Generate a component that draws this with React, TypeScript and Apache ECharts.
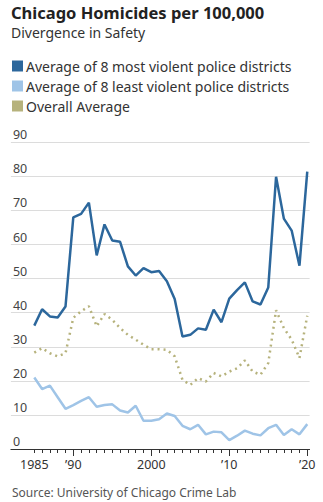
import React, { useEffect, useRef } from "react";
import * as echarts from "echarts";

const years: number[] = [];
for (let y = 1985; y <= 2020; y++) years.push(y);

const mostViolent = [
  36.2, 41.0, 38.9, 38.6, 41.8, 68.0, 69.0, 72.3, 56.8, 65.9, 61.2, 60.8,
  53.6, 50.9, 53.1, 51.9, 52.2, 49.2, 44.0, 33.0, 33.5, 35.4, 35.0, 40.9,
  37.2, 44.1, 46.6, 48.9, 43.3, 42.4, 47.4, 79.9, 67.6, 64.1, 53.8, 81.4,
];
const leastViolent = [
  21.0, 17.6, 18.6, 15.2, 11.8, 12.9, 14.1, 15.2, 12.4, 12.9, 13.1, 11.3,
  10.7, 12.7, 8.3, 8.3, 8.7, 10.4, 9.7, 6.8, 5.8, 7.1, 4.3, 5.1,
  4.9, 2.6, 3.9, 5.4, 4.5, 4.0, 6.1, 7.1, 4.1, 5.8, 4.3, 7.3,
];
const overall = [
  28.3, 29.6, 28.1, 27.2, 28.1, 38.5, 40.4, 41.9, 36.0, 39.6, 37.9, 35.5,
  33.5, 32.1, 30.6, 29.3, 29.3, 29.1, 27.2, 20.3, 18.8, 20.8, 19.8, 22.3,
  21.3, 22.7, 23.7, 26.0, 22.7, 21.8, 25.2, 40.7, 35.5, 32.1, 26.7, 39.1,
];
const xLabelYears = [1985, 1990, 2000, 2010, 2020];
const majorTickYears = [1990, 2000, 2010, 2020];
const seriesNames = [
  "Average of 8 most violent police districts",
  "Average of 8 least violent police districts",
  "Overall Average",
];

const FONT = "Noto Sans";
const DARK = "#2c679c";
const LIGHT = "#9fc4e7";
const OLIVE = "#b6b27c";

function fmtYear(v: number) {
  if (v === 1985 || v === 2000) return String(v);
  return "\u2019" + String(v).slice(2);
}

export default function App() {
  const ref = useRef<HTMLDivElement>(null);
  useEffect(() => {
    if (!ref.current) return;
    const chart = echarts.init(ref.current, null, { renderer: "svg" });
    const pair = (arr: number[]) => years.map((y, i) => [y, arr[i]]);
    chart.setOption({
      animation: false,
      backgroundColor: "#fff",
      textStyle: { fontFamily: FONT },
      title: {
        text: "Chicago Homicides per 100,000",
        subtext: "Divergence in Safety",
        left: 11,
        top: 0,
        padding: [2, 0, 0, 0],
        itemGap: 1,
        textStyle: { fontFamily: FONT, fontSize: 16.5, fontWeight: "bold", color: "#222", lineHeight: 21 },
        subtextStyle: { fontFamily: FONT, fontSize: 14, color: "#333", lineHeight: 17 },
      },
      legend: {
        orient: "vertical",
        left: 12,
        top: 58,
        padding: 0,
        itemWidth: 11,
        itemHeight: 11,
        itemGap: 4,
        icon: "rect",
        selectedMode: false,
        data: seriesNames,
        textStyle: { fontFamily: FONT, fontSize: 14, color: "#333", lineHeight: 16, padding: [0, 0, 0, -2] },
      },
      grid: { left: 10.9, right: 13.4, top: 142.3, bottom: 53 },
      xAxis: [
        {
          type: "value",
          min: 1982,
          max: 2020.3,
          axisLine: { show: true, lineStyle: { color: "#333", width: 1 } },
          axisTick: { show: true, customValues: years, length: 4, lineStyle: { color: "#333" } },
          axisLabel: {
            show: true,
            customValues: xLabelYears,
            formatter: (v: number) => fmtYear(v),
            fontFamily: FONT,
            fontSize: 12.5,
            color: "#333",
            margin: 9,
          },
          splitLine: { show: false },
        },
        {
          type: "value",
          position: "bottom",
          min: 1982,
          max: 2020.3,
          axisLine: { show: false },
          axisTick: { show: true, customValues: majorTickYears, length: 7, lineStyle: { color: "#333" } },
          axisLabel: { show: false },
          splitLine: { show: false },
        },
      ],
      yAxis: {
        type: "value",
        min: 0,
        max: 90,
        interval: 10,
        axisLine: { show: false },
        axisTick: { show: false },
        axisLabel: {
          inside: true,
          margin: 2,
          verticalAlign: "bottom",
          padding: [0, 0, 1, 0],
          fontFamily: FONT,
          fontSize: 12.5,
          color: "#444",
        },
        splitLine: { show: true, lineStyle: { color: "#dcdcdc", width: 1 } },
      },
      series: [
        {
          name: seriesNames[2],
          type: "line",
          data: pair(overall),
          color: OLIVE,
          symbol: "none",
          lineStyle: { color: OLIVE, width: 2.5, type: [2, 4] },
          z: 2,
        },
        {
          name: seriesNames[1],
          type: "line",
          data: pair(leastViolent),
          color: LIGHT,
          symbol: "none",
          lineStyle: { color: LIGHT, width: 2.5 },
          z: 3,
        },
        {
          name: seriesNames[0],
          type: "line",
          data: pair(mostViolent),
          color: DARK,
          symbol: "none",
          lineStyle: { color: DARK, width: 2.5 },
          z: 4,
        },
      ],
      graphic: [
        {
          type: "text",
          left: 12,
          top: 486,
          style: {
            text: "Source: University of Chicago Crime Lab",
            fontFamily: FONT,
            fontSize: 12,
            fill: "#555",
          },
        },
      ],
    });
    return () => chart.dispose();
  }, []);
  return <div ref={ref} style={{ width: 323, height: 502, position: "absolute", left: 0, top: 0 }} />;
}
